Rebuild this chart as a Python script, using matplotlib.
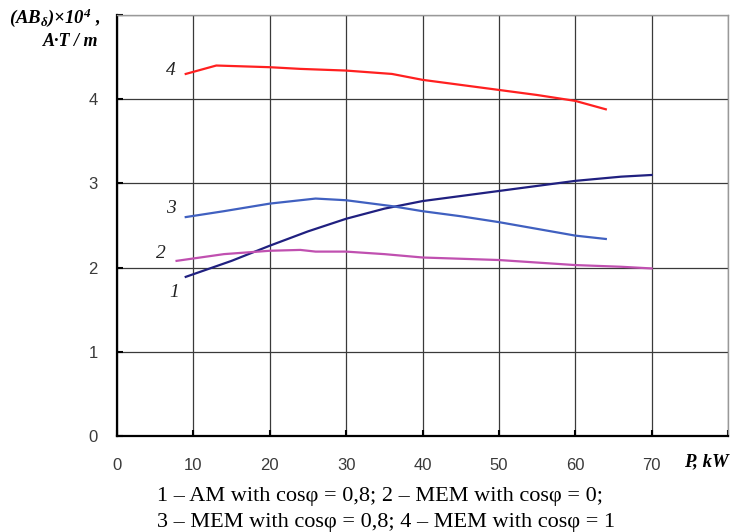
import matplotlib
matplotlib.use('Agg')
import matplotlib.pyplot as plt

# данные кривых (P, kW -> AB*1e4)
p1 = [9, 15, 20, 25, 30, 35, 40, 45, 50, 55, 60, 66, 70]
ab1 = [1.89, 2.08, 2.26, 2.43, 2.58, 2.70, 2.79, 2.85, 2.91, 2.97, 3.03, 3.08, 3.10]

p2 = [7.8, 14, 20, 24, 26, 30, 35, 40, 50, 60, 66, 70]
ab2 = [2.08, 2.16, 2.20, 2.21, 2.19, 2.19, 2.16, 2.12, 2.09, 2.03, 2.01, 1.99]

p3 = [9, 14, 20, 26, 30, 36, 40, 45, 50, 55, 60, 64]
ab3 = [2.60, 2.67, 2.76, 2.82, 2.80, 2.73, 2.67, 2.61, 2.54, 2.46, 2.38, 2.34]

p4 = [9, 13, 20, 24, 30, 36, 40, 45, 50, 55, 60, 64]
ab4 = [4.30, 4.40, 4.38, 4.36, 4.34, 4.30, 4.23, 4.17, 4.11, 4.05, 3.98, 3.88]

xticks = [0, 10, 20, 30, 40, 50, 60, 70, 80]
xlabels = ['0', '10', '20', '30', '40', '50', '60', '70', '']
yticks = [0, 1, 2, 3, 4, 5]
ylabels = ['0', '1', '2', '3', '4', '']

plt.rcParams['mathtext.fontset'] = 'custom'
plt.rcParams['mathtext.rm'] = 'Liberation Serif:italic:bold'
plt.rcParams['mathtext.it'] = 'Liberation Serif:italic:bold'
plt.rcParams['mathtext.bf'] = 'Liberation Serif:italic:bold'

fig = plt.figure(figsize=(7.34, 5.32), dpi=100)
ax = fig.add_axes([117/734, 1 - 436/532, (728-117)/734, (436-15)/532])

ax.plot(p1, ab1, color='#202080', lw=1.6)
ax.plot(p2, ab2, color='#c050b0', lw=1.6)
ax.plot(p3, ab3, color='#4060c0', lw=1.6)
ax.plot(p4, ab4, color='#ff2020', lw=1.6)

ax.set_xlim(0, 80)
ax.set_ylim(0, 5)
ax.set_xticks(xticks)
ax.set_xticklabels(xlabels)
ax.set_yticks(yticks)
ax.set_yticklabels(ylabels)
ax.tick_params(direction='in', length=4, width=1.5, color='black',
               labelsize=12, labelcolor='#3a3a3a')
ax.tick_params(axis='x', pad=16)
ax.tick_params(axis='y', pad=14)
for lab in ax.get_xticklabels() + ax.get_yticklabels():
    lab.set_family('Liberation Sans')

ax.grid(True, color='#3a3a3a', lw=0.9)
ax.set_axisbelow(True)
for s in ['left', 'bottom']:
    ax.spines[s].set_linewidth(1.6)
    ax.spines[s].set_color('black')
for s in ['top', 'right']:
    ax.spines[s].set_linewidth(1.0)
    ax.spines[s].set_color('#999999')

# номера кривых
lf = dict(family='Liberation Serif', style='italic', fontsize=14, color='#222222',
          ha='center', va='center')
ax.text(7.1, 4.34, '4', **lf)
ax.text(7.0, 2.70, '3', **lf)
ax.text(5.7, 2.17, '2', **lf)
ax.text(7.5, 1.70, '1', **lf)

# подписи осей
fig.text(100/734, 1 - 18/532, r'(AB$_{δ}$)×10$^{4}$ ,', family='Liberation Serif',
         style='italic', weight='bold', fontsize=13.5, ha='right', va='center')
fig.text(98/734, 1 - 42/532, 'A·T / m', family='Liberation Serif',
         style='italic', weight='bold', fontsize=13, ha='right', va='center')
fig.text(684/734, 1 - 462/532, 'P, kW', family='Liberation Serif',
         style='italic', weight='bold', fontsize=13.5, ha='left', va='center')

# подпись рисунка
cf = dict(family='Liberation Serif', fontsize=16, ha='left', va='center')
fig.text(157/734, 1 - 497/532, '1 – AM with cosφ = 0,8; 2 – MEM with cosφ = 0;', **cf)
fig.text(157/734, 1 - 522/532, '3 – MEM with cosφ = 0,8; 4 – MEM with cosφ = 1', **cf)

fig.savefig('out.png', dpi=100)
